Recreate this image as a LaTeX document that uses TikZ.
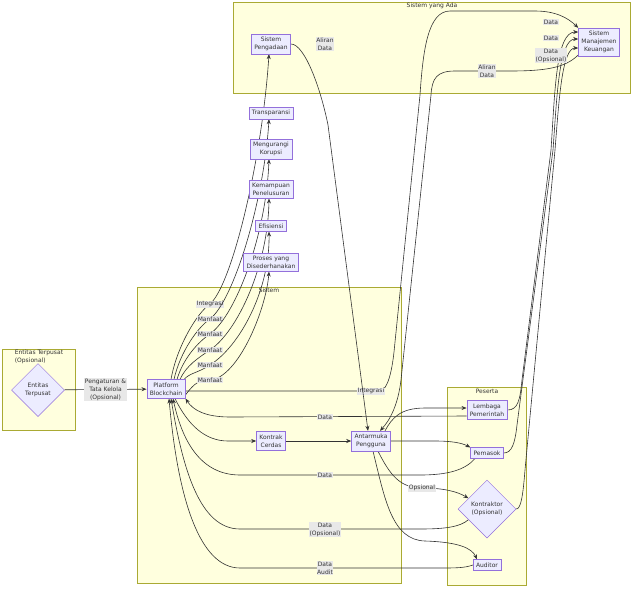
\documentclass[tikz,border=0pt]{standalone}
\usepackage{fontspec}
\setmainfont{DejaVu Sans}
\usetikzlibrary{arrows.meta,shapes.geometric}
\definecolor{isikotak}{HTML}{ECECFF}
\definecolor{garkotak}{HTML}{9370DB}
\definecolor{isigrup}{HTML}{FFFFDE}
\definecolor{gargrup}{HTML}{AAAA33}
\definecolor{tinta}{HTML}{333333}
\definecolor{isiket}{HTML}{E8E8E8}
\pgfdeclarelayer{grup}
\pgfdeclarelayer{garis}
\pgfsetlayers{grup,garis,main}
\begin{document}
\begin{tikzpicture}[x=1pt,y=-1pt,>={Stealth[length=5pt,width=4pt]},font=\fontsize{6}{8}\selectfont,text=tinta,
	kotak/.style={draw=garkotak,fill=isikotak,line width=0.5pt,inner xsep=3pt,inner ysep=3pt,align=center},
	belah/.style={draw=garkotak,fill=isikotak,line width=0.5pt,diamond,aspect=1,inner sep=1pt,align=center},
	grup/.style={draw=gargrup,fill=isigrup,line width=0.5pt},
	alur/.style={->,draw=tinta,line width=0.6pt},
	ket/.style={fill=isiket,inner sep=0.6pt,align=center}]
	\useasboundingbox (0,0) rectangle (640,595);
	\begin{pgfonlayer}{grup}
		\draw[grup] (2,349) rectangle (75,430);
		\draw[grup] (137,287) rectangle (401,583);
		\draw[grup] (447,387) rectangle (526,585);
		\draw[grup] (233,2) rectangle (630,93);
		\node[align=left] (jEntitas) at (39,357) {Entitas Terpusat\\(Opsional)};
		\node (jSistem) at (269,290) {Sistem};
		\node (jPeserta) at (487,391) {Peserta};
		\node (jAda) at (432,6) {Sistem yang Ada};
	\end{pgfonlayer}
	
	\node[belah,minimum size=53] (entitas) at (38,390) {Entitas\\Terpusat};
	\node[kotak] (platform) at (166,389) {Platform\\Blockchain};
	\node[kotak] (kontrak) at (271,441) {Kontrak\\Cerdas};
	\node[kotak] (antarmuka) at (371,441) {Antarmuka\\Pengguna};
	\node[kotak] (lembaga) at (487,410) {Lembaga\\Pemerintah};
	\node[kotak] (pemasok) at (487,453) {Pemasok};
	\node[belah,minimum size=58] (kontraktor) at (487,509) {Kontraktor\\(Opsional)};
	\node[kotak] (auditor) at (487,565) {Auditor};
	\node[kotak] (pengadaan) at (271,44) {Sistem\\Pengadaan};
	\node[kotak] (smk) at (599,42) {Sistem\\Manajemen\\Keuangan};
	\node[kotak] (transparansi) at (271,113) {Transparansi};
	\node[kotak] (korupsi) at (271,149) {Mengurangi\\Korupsi};
	\node[kotak] (penelusuran) at (271,189) {Kemampuan\\Penelusuran};
	\node[kotak] (efisiensi) at (271,226) {Efisiensi};
	\node[kotak] (proses) at (271,262) {Proses yang\\Disederhanakan};
	
	\begin{pgfonlayer}{garis}
		\draw[alur] (entitas) -- (platform) node[ket,midway] {Pengaturan \&\\Tata Kelola\\(Opsional)};
		\foreach \dx/\yl/\tgt/\teks/\cx/\cy in {24.5/304/pengadaan/Integrasi/232/160,27.5/319/transparansi/Manfaat/234/200,30.5/334/korupsi/Manfaat/236/235,33.5/350/penelusuran/Manfaat/238/265,37.5/365/efisiensi/Manfaat/240/290}{
			\draw[alur] ([xshift=\dx pt]platform.north west) .. controls ({152.5+\dx},{379-0.45*(379-\yl)}) and (198,{\yl+8}) .. (210,\yl) node[ket] {\teks}
			.. controls (\cx,{\yl-19}) and ({\cx+30},\cy) .. ([xshift=-2pt]\tgt.south);
		}
		\draw[alur] ([yshift=-6pt]platform.east) .. controls (195,382) and (200,380) .. (210,380) node[ket] {Manfaat}
		.. controls (238,378) and (266,310) .. ([xshift=-2pt]proses.south);
		\draw[alur] ([yshift=-2pt]platform.east) -- (380,391) node[ket] at (371,391) {Integrasi}
		.. controls (388,390) and (392,370) .. (394,352) -- (420,95) .. controls (423,50) and (428,11) .. (450,11)
		-- (535,11) .. controls (556,11) and (568,18) .. (smk.north west);
		\draw[alur] (pengadaan.east) .. controls (305,44) and (321,90) .. (328,125) node[ket] at (325,44) {Aliran\\Data}
		-- ([xshift=-3pt]antarmuka.north);
		\draw[alur] ([yshift=-13pt]smk.west) .. controls (565,68) and (545,71) .. (510,71) -- (455,71) node[ket] at (487,71) {Aliran\\Data}
		.. controls (437,71) and (432,78) .. (431,95) -- (401,380) .. controls (398,405) and (390,420) .. ([xshift=9pt]antarmuka.north);
		\draw[alur] ([xshift=9pt]platform.south) .. controls (188,425) and (205,441) .. (228,441) -- (kontrak.west);
		\draw[alur] (kontrak) -- (antarmuka);
		\draw[alur] ([xshift=14pt]antarmuka.north) .. controls (392,418) and (400,408) .. (425,408) -- ([yshift=2pt]lembaga.west);
		\draw[alur] (antarmuka.east) -- (435,441) .. controls (452,441) and (462,443) .. (pemasok.north west);
		\draw[alur] ([xshift=7pt]antarmuka.south) .. controls (390,475) and (400,488) .. (422,488) node[ket] {Opsional}
		.. controls (445,488) and (458,492) .. (kontraktor.150);
		\draw[alur] ([xshift=2pt]antarmuka.south) .. controls (385,500) and (392,540) .. (425,541)
		.. controls (458,542) and (472,548) .. ([xshift=-10pt]auditor.north);
		\draw[alur] ([yshift=-6pt]lembaga.west) -- (230,417) node[ket] at (325,417) {Data}
		.. controls (205,417) and (193,410) .. (platform.south east);
		\draw[alur] ([xshift=-12pt]pemasok.south) .. controls (465,470) and (448,475) .. (420,475) -- (240,475) node[ket] at (325,475) {Data}
		.. controls (200,475) and (182,440) .. ([xshift=7pt]platform.south);
		\draw[alur] (kontraktor.210) .. controls (460,527) and (445,529) .. (420,529) -- (240,529) node[ket] at (325,529.5) {Data\\(Opsional)}
		.. controls (200,529) and (183,470) .. ([xshift=5pt]platform.south);
		\draw[alur] (auditor.west) .. controls (465,568) and (455,568) .. (440,568) -- (240,568) node[ket] at (325,568) {Data\\Audit}
		.. controls (200,568) and (178,500) .. ([xshift=3pt]platform.south);
		\draw[alur] (lembaga.east) .. controls (518,410) and (520,400) .. (522,380) -- (551,150) node[ket] at (551,22) {Data}
		.. controls (555,90) and (556,32) .. ([yshift=10pt]smk.west);
		\draw[alur] (pemasok.east) .. controls (512,453) and (515,443) .. (517,425) -- (553,150) node[ket] at (551,38) {Data}
		.. controls (557,95) and (559,39) .. ([yshift=3pt]smk.west);
		\draw[alur] (kontraktor.east) .. controls (521,509) and (523,495) .. (525,470) -- (555,150) node[ket] at (551,55.5) {Data\\(Opsional)}
		.. controls (559,100) and (562,48) .. ([yshift=-6pt]smk.west);
	\end{pgfonlayer}
\end{tikzpicture}
\end{document}
